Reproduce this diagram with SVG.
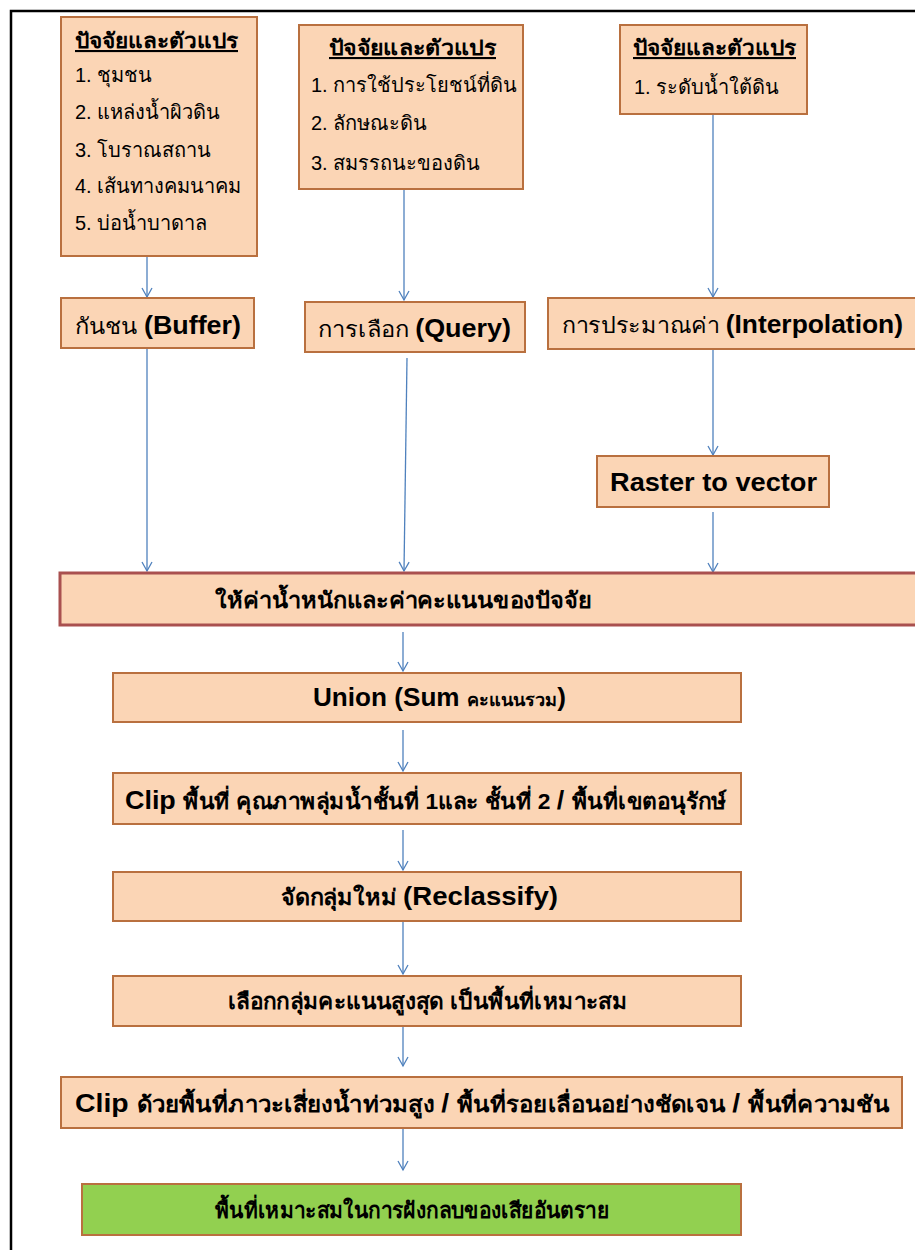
<svg xmlns="http://www.w3.org/2000/svg" width="915" height="1250" viewBox="0 0 915 1250">
<defs>
<style>
.box{fill:#FBD5B5;stroke:#B9703F;stroke-width:2}
.wbox{fill:#FBD5B5;stroke:#A9504F;stroke-width:3}
.gbox{fill:#92D050;stroke:#B9703F;stroke-width:2}
.t{font-family:"Liberation Sans","Noto Sans",sans-serif;fill:#000}
.th{font-size:20px}
.hd{font-size:21px;font-weight:bold;text-decoration:underline}
.b{font-weight:bold}
.c{stroke:#4F81BD;stroke-width:1.3;fill:none}
</style>
<marker id="ah" markerWidth="12" markerHeight="12" refX="10" refY="6" orient="auto" markerUnits="userSpaceOnUse" viewBox="0 0 12 12">
<path d="M1,1 L10,6 L1,11" fill="none" stroke="#4F81BD" stroke-width="1.3"/>
</marker>
</defs>
<rect width="915" height="1250" fill="#fff"/>
<path d="M11,1250 V11 H915" fill="none" stroke="#000" stroke-width="2.5"/>

<g id="connectors">
<line class="c" x1="147" y1="256" x2="147" y2="297" marker-end="url(#ah)"/>
<line class="c" x1="147" y1="348" x2="147" y2="571" marker-end="url(#ah)"/>
<line class="c" x1="404" y1="189" x2="404" y2="300" marker-end="url(#ah)"/>
<line class="c" x1="407" y1="358" x2="404" y2="571" marker-end="url(#ah)"/>
<line class="c" x1="713" y1="114" x2="713" y2="297" marker-end="url(#ah)"/>
<line class="c" x1="713" y1="349" x2="713" y2="455" marker-end="url(#ah)"/>
<line class="c" x1="713" y1="512" x2="713" y2="572" marker-end="url(#ah)"/>
<line class="c" x1="403" y1="632" x2="403" y2="671" marker-end="url(#ah)"/>
<line class="c" x1="403" y1="730" x2="403" y2="771" marker-end="url(#ah)"/>
<line class="c" x1="403" y1="830" x2="403" y2="870" marker-end="url(#ah)"/>
<line class="c" x1="403" y1="921" x2="403" y2="974" marker-end="url(#ah)"/>
<line class="c" x1="403" y1="1026" x2="403" y2="1066" marker-end="url(#ah)"/>
<line class="c" x1="403" y1="1128" x2="403" y2="1170" marker-end="url(#ah)"/>
</g>

<g id="n1">
<rect class="box" x="61" y="17" width="196" height="239"/>
<text class="t hd" x="75" y="48" textLength="163" lengthAdjust="spacingAndGlyphs">ปัจจัยและตัวแปร</text>
<text class="t th" x="75" y="82">1. ชุมชน</text>
<text class="t th" x="75" y="119">2. แหล่งน้ำผิวดิน</text>
<text class="t th" x="75" y="157">3. โบราณสถาน</text>
<text class="t th" x="75" y="193">4. เส้นทางคมนาคม</text>
<text class="t th" x="75" y="230">5. บ่อน้ำบาดาล</text>
</g>

<g id="n2">
<rect class="box" x="299" y="25" width="224" height="164"/>
<text class="t hd" x="329" y="55" textLength="167" lengthAdjust="spacingAndGlyphs">ปัจจัยและตัวแปร</text>
<text class="t th" x="311" y="92">1. การใช้ประโยชน์ที่ดิน</text>
<text class="t th" x="311" y="130">2. ลักษณะดิน</text>
<text class="t th" x="311" y="170">3. สมรรถนะของดิน</text>
</g>

<g id="n3">
<rect class="box" x="620" y="25" width="187" height="89"/>
<text class="t hd" x="633" y="55" textLength="163" lengthAdjust="spacingAndGlyphs">ปัจจัยและตัวแปร</text>
<text class="t th" x="634" y="94">1. ระดับน้ำใต้ดิน</text>
</g>

<g id="n4">
<rect class="box" x="61" y="298" width="193" height="50"/>
<text class="t" x="75" y="334" textLength="166" lengthAdjust="spacingAndGlyphs"><tspan font-size="22">กันชน </tspan><tspan class="b" font-size="25">(Buffer)</tspan></text>
</g>

<g id="n5">
<rect class="box" x="305" y="302" width="220" height="50"/>
<text class="t" x="318" y="337" textLength="193" lengthAdjust="spacingAndGlyphs"><tspan font-size="22">การเลือก </tspan><tspan class="b" font-size="25">(Query)</tspan></text>
</g>

<g id="n6">
<rect class="box" x="548" y="298" width="370" height="51"/>
<text class="t" x="562" y="333" textLength="341" lengthAdjust="spacingAndGlyphs"><tspan font-size="22">การประมาณค่า </tspan><tspan class="b" font-size="25">(Interpolation)</tspan></text>
</g>

<g id="n7">
<rect class="box" x="597" y="456" width="232" height="51"/>
<text class="t b" x="610" y="491" font-size="26" textLength="207" lengthAdjust="spacingAndGlyphs">Raster to vector</text>
</g>

<g id="n8">
<rect class="wbox" x="60" y="573" width="858" height="52"/>
<text class="t b" x="215" y="608" font-size="22" textLength="377" lengthAdjust="spacingAndGlyphs">ให้ค่าน้ำหนักและค่าคะแนนของปัจจัย</text>
</g>

<g id="n9">
<rect class="box" x="113" y="673" width="628" height="49"/>
<text class="t b" x="313" y="706" textLength="253" lengthAdjust="spacingAndGlyphs"><tspan font-size="26">Union (Sum </tspan><tspan font-size="18">คะแนนรวม</tspan><tspan font-size="26">)</tspan></text>
</g>

<g id="n10">
<rect class="box" x="113" y="773" width="628" height="51"/>
<text class="t b" x="125" y="809" textLength="602" lengthAdjust="spacingAndGlyphs"><tspan font-size="26">Clip </tspan><tspan font-size="22">พื้นที่ คุณภาพลุ่มน้ำชั้นที่ 1และ ชั้นที่ 2 </tspan><tspan font-size="26">/ </tspan><tspan font-size="22">พื้นที่เขตอนุรักษ์</tspan></text>
</g>

<g id="n11">
<rect class="box" x="113" y="872" width="628" height="49"/>
<text class="t b" x="281" y="905" textLength="277" lengthAdjust="spacingAndGlyphs"><tspan font-size="22">จัดกลุ่มใหม่ </tspan><tspan font-size="26">(Reclassify)</tspan></text>
</g>

<g id="n12">
<rect class="box" x="113" y="976" width="628" height="50"/>
<text class="t b" x="228" y="1009" font-size="22" textLength="399" lengthAdjust="spacingAndGlyphs">เลือกกลุ่มคะแนนสูงสุด เป็นพื้นที่เหมาะสม</text>
</g>

<g id="n13">
<rect class="box" x="61" y="1077" width="841" height="51"/>
<text class="t b" x="75" y="1112" textLength="814" lengthAdjust="spacingAndGlyphs"><tspan font-size="26">Clip </tspan><tspan font-size="22">ด้วยพื้นที่ภาวะเสี่ยงน้ำท่วมสูง  </tspan><tspan font-size="26">/ </tspan><tspan font-size="22">พื้นที่รอยเลื่อนอย่างชัดเจน </tspan><tspan font-size="26">/ </tspan><tspan font-size="22">พื้นที่ความชัน</tspan></text>
</g>

<g id="n14">
<rect class="gbox" x="82" y="1184" width="659" height="51"/>
<text class="t b" x="215" y="1218" font-size="22" textLength="394" lengthAdjust="spacingAndGlyphs">พื้นที่เหมาะสมในการฝังกลบของเสียอันตราย</text>
</g>
</svg>
